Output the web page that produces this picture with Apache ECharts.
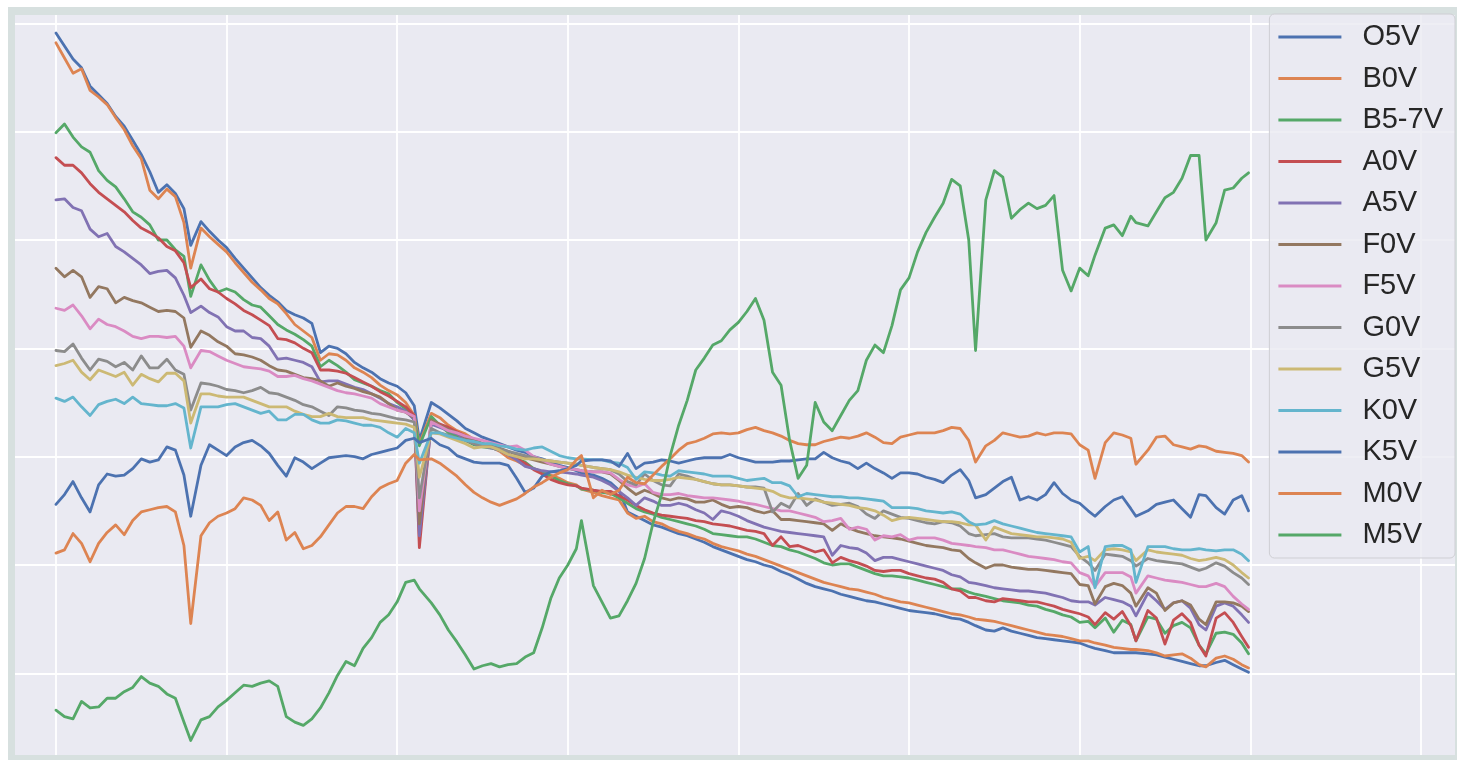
<!DOCTYPE html>
<html>
<head>
<meta charset="utf-8">
<title>Main-sequence stellar spectra</title>
<script src="https://cdn.jsdelivr.net/npm/echarts@6/dist/echarts.min.js"></script>
<style>
  html, body { margin: 0; padding: 0; background: #ffffff; }
  #chart { width: 1457px; height: 760px; }
</style>
</head>
<body>
<div id="chart"></div>
<script>
// Sample positions along the spectral axis (shared by every spectrum)
const xs = [
  0,5,10,15,20,25,30,35,40,45,
  50,55,60,65,70,75,79,85,90,95,
  100,105,110,115,120,125,130,135,140,145,
  150,155,160,165,170,175,180,185,190,195,
  200,205,210,213,220,225,230,235,240,245,
  250,255,260,265,270,275,280,285,290,295,
  300,305,308,315,320,325,330,335,340,345,
  350,355,360,365,370,375,380,385,390,395,
  400,405,410,415,420,425,430,435,440,445,
  450,455,460,465,470,475,480,485,490,495,
  500,505,510,515,520,525,530,535,539,545,
  550,555,560,565,570,575,580,585,590,595,
  600,605,609,615,620,625,630,633,640,645,
  650,655,660,665,670,674,680,685,690,695,
  699
];

// Grid positions
const gridX = [0, 100, 200, 300, 400, 500, 600, 700, 800];
const gridY = [0, 100, 200, 300, 400, 500, 600];

// Spectral flux, one array per spectral type
const O5V = [
  591,579,567,559,542,534,526,514,505,492,
  479,463,444,451,443,429,395,417,408,400,
  393,383,374,365,356,349,343,335,331,328,
  323,296,302,300,295,287,282,278,272,268,
  265,259,247,215,250,245,239,233,226,222,
  218,215,212,209,206,204,200,198,195,192,
  190,187,185,183,180,176,169,149,145,141,
  137,135,132,129,127,124,121,117,114,111,
  108,105,103,100,98,94,91,87,83,80,
  78,76,73,71,69,67,66,64,62,60,
  58,57,56,55,53,51,50,47,44,40,
  39,42,39,37,35,33,32,31,30,29,
  28,25,23,21,19,19,19,19,18,17,
  15,13,11,9,7,7,10,12,8,4,
  1
];
const B0V = [
  582,568,554,558,538,532,525,513,502,487,
  475,446,438,447,440,416,374,411,403,396,
  389,379,370,361,354,346,341,332,322,316,
  310,289,295,294,289,282,278,273,266,261,
  257,250,238,212,240,236,229,224,221,216,
  211,209,205,199,196,192,189,186,183,180,
  176,174,170,167,164,162,160,148,143,145,
  140,138,134,131,129,126,124,120,117,115,
  113,110,108,105,102,99,96,93,90,87,
  84,82,80,78,77,75,73,70,68,66,
  65,63,61,59,57,55,54,52,50,49,
  48,46,44,42,40,38,36,35,34,32,
  30,30,28,26,24,23,22,22,21,19,
  16,17,18,14,8,6,14,16,13,8,
  5
];
const B5_7V = [
  499,507,495,486,481,464,455,449,438,426,
  421,414,400,400,391,385,348,377,363,352,
  355,352,345,340,338,330,322,317,313,308,
  302,283,289,284,278,271,268,265,261,258,
  250,244,234,210,237,229,222,219,215,211,
  209,208,206,202,198,195,189,186,182,178,
  175,173,170,169,167,166,162,157,152,149,
  147,144,142,140,138,136,133,129,128,127,
  126,126,124,121,118,117,114,112,109,106,
  102,100,101,101,98,95,92,90,90,89,
  88,86,84,82,80,78,78,75,73,71,
  69,67,66,65,63,62,59,57,54,52,
  47,48,42,51,38,49,45,30,52,50,
  37,44,47,42,26,18,37,38,36,28,
  18
];
const A0V = [
  476,469,469,462,452,444,438,432,426,418,
  411,407,402,394,390,379,356,364,355,352,
  346,341,335,331,326,321,309,308,305,300,
  296,280,280,279,277,273,269,265,260,256,
  251,246,238,116,233,230,227,223,219,215,
  212,210,206,202,198,194,188,184,179,176,
  174,173,171,169,168,168,164,160,155,151,
  148,146,145,144,143,141,140,138,137,136,
  134,132,131,129,118,126,117,118,115,112,
  114,102,107,104,102,99,95,94,95,95,
  92,90,88,87,84,78,76,70,70,67,
  66,69,68,67,66,66,64,62,59,57,
  55,52,45,56,50,57,44,30,58,51,
  27,49,55,47,26,16,51,56,47,34,
  24
];
const A5V = [
  437,438,430,427,410,403,406,394,389,383,
  377,369,371,372,365,349,333,339,333,329,
  320,316,316,310,309,302,290,291,289,287,
  283,269,270,270,267,264,262,258,254,249,
  246,242,234,127,230,227,224,221,216,212,
  210,208,206,202,197,191,189,187,186,186,
  185,184,183,181,178,174,168,162,155,162,
  159,155,155,157,155,151,148,142,150,148,
  145,141,138,135,133,131,130,129,128,127,
  126,109,118,116,115,111,104,107,107,105,
  103,101,99,97,95,91,89,84,83,81,
  79,78,77,76,76,75,74,72,70,67,
  66,66,63,70,68,66,62,53,74,67,
  59,65,67,60,45,40,62,65,62,54,
  47
];
const F0V = [
  374,366,372,366,347,357,355,342,347,344,
  342,338,334,335,334,328,301,316,312,306,
  302,295,294,292,289,284,280,279,276,273,
  272,270,265,268,265,263,260,258,255,249,
  243,241,236,138,234,229,225,222,218,215,
  212,210,208,205,202,199,197,195,193,191,
  189,188,187,186,186,184,178,171,165,169,
  166,162,160,162,161,158,158,160,156,153,
  154,153,150,148,150,142,142,141,140,139,
  138,132,138,134,131,129,127,126,125,124,
  122,120,118,117,116,114,113,106,102,97,
  100,100,98,97,96,96,95,94,93,92,
  82,81,64,80,83,81,74,62,79,74,
  58,65,67,63,50,45,66,66,65,62,
  57
];
const F5V = [
  337,335,340,330,318,327,322,320,316,311,
  309,311,311,310,311,302,282,298,297,293,
  289,286,283,282,281,279,274,274,275,272,
  270,267,264,261,259,258,256,254,249,246,
  243,241,237,150,232,228,224,222,219,217,
  215,213,211,209,210,206,200,197,193,191,
  189,188,187,186,186,185,179,174,172,175,
  167,165,165,166,164,163,162,162,161,160,
  159,157,156,154,152,150,150,148,146,144,
  140,141,143,133,135,133,123,127,126,128,
  123,125,125,125,123,120,119,118,117,116,
  114,114,112,110,108,107,106,105,103,102,
  93,90,80,93,93,93,89,74,90,88,
  86,85,84,82,80,80,83,80,71,64,
  59
];
const G0V = [
  298,297,304,291,280,290,288,283,287,280,
  293,282,282,290,280,276,243,268,267,265,
  262,261,259,261,264,259,258,255,252,248,
  246,242,238,246,245,243,242,240,239,237,
  235,234,232,162,226,222,220,217,215,212,
  210,209,207,205,203,201,199,197,196,195,
  194,193,192,190,189,188,184,177,174,184,
  178,174,173,184,182,179,177,175,174,174,
  173,172,172,171,149,157,153,166,155,161,
  158,155,156,157,154,147,143,150,147,144,
  143,141,139,138,140,139,136,129,127,128,
  129,126,125,125,125,124,123,121,119,117,
  108,102,95,110,109,108,104,99,106,104,
  103,102,101,98,95,97,102,99,93,88,
  82
];
const G5V = [
  284,286,289,278,271,280,277,274,278,266,
  276,272,269,277,277,270,231,258,258,256,
  255,255,255,252,249,246,246,246,242,239,
  237,237,240,237,236,236,236,234,233,232,
  231,230,227,181,222,221,218,215,212,208,
  209,209,206,202,200,198,198,197,196,195,
  194,193,192,190,189,188,186,183,181,179,
  178,178,179,181,180,179,177,175,174,174,
  173,172,171,170,168,164,162,162,161,160,
  158,157,156,155,153,152,150,146,141,143,
  144,143,142,141,140,140,139,137,137,123,
  135,132,129,128,127,126,126,125,124,121,
  106,108,104,114,115,114,112,104,114,112,
  111,110,109,106,104,105,107,105,100,93,
  88
];
const K0V = [
  254,251,255,246,238,248,251,253,249,255,
  249,248,247,247,249,245,208,246,246,246,
  248,249,246,243,240,242,234,234,239,239,
  234,231,231,234,233,231,229,229,227,222,
  218,226,222,194,222,222,219,217,215,214,
  212,212,210,209,207,206,208,209,205,201,
  199,198,198,197,197,195,194,190,179,186,
  185,183,182,187,186,185,184,182,182,182,
  180,178,179,180,176,176,173,163,166,165,
  164,163,163,162,162,161,160,159,153,153,
  153,152,150,149,148,149,147,140,137,138,
  141,138,136,134,132,130,129,128,127,126,
  112,117,79,117,118,118,114,84,117,117,
  117,115,114,114,115,114,113,114,114,110,
  104
];
const K5V = [
  156,165,177,162,149,174,184,182,183,189,
  198,195,197,209,206,183,145,192,211,206,
  201,209,213,215,210,203,192,182,199,195,
  189,194,199,200,201,200,198,202,204,206,
  208,215,217,213,217,211,208,201,198,195,
  194,194,194,192,180,167,171,182,186,187,
  189,192,196,197,197,196,191,203,189,194,
  195,197,196,194,196,198,199,199,199,202,
  199,197,195,195,195,196,196,197,198,198,
  204,199,196,194,189,194,189,185,180,185,
  185,184,181,179,176,183,188,178,162,165,
  171,177,181,160,163,160,165,176,166,160,
  157,150,145,154,160,163,152,145,150,156,
  158,160,152,144,165,164,153,147,160,164,
  150
];
const M0V = [
  111,114,129,120,103,120,130,137,128,141,
  149,151,153,154,149,118,46,127,139,145,
  148,152,162,160,155,141,149,123,130,115,
  118,126,137,148,154,154,152,163,171,175,
  178,194,202,197,198,194,188,182,174,167,
  162,158,155,158,161,166,172,176,181,185,
  188,197,201,162,169,165,169,181,176,175,
  183,191,198,206,212,214,217,221,222,221,
  222,225,227,224,222,219,215,212,211,211,
  214,216,218,217,219,222,218,213,212,218,
  220,222,222,222,224,227,226,215,195,210,
  215,222,220,218,219,222,220,222,222,221,
  211,206,180,213,222,220,217,193,206,218,
  219,211,209,207,210,209,205,204,203,201,
  195
];
const M5V = [
  -34,-40,-42,-26,-32,-31,-23,-23,-17,-13,
  -3,-9,-12,-19,-23,-45,-62,-43,-40,-31,
  -25,-18,-11,-12,-9,-7,-12,-40,-45,-48,
  -42,-32,-18,-2,11,7,23,33,47,54,
  66,84,86,78,65,54,40,29,17,4,
  7,9,6,8,9,15,19,42,69,88,
  100,115,141,81,66,51,53,67,83,106,
  139,165,201,229,252,280,291,303,307,317,
  324,334,346,326,278,266,215,180,192,250,
  232,224,238,252,261,289,303,296,321,354,
  365,389,407,421,434,456,450,400,298,437,
  464,458,420,428,434,429,432,441,372,353,
  374,367,386,411,414,404,422,416,413,426,
  439,444,457,478,478,400,416,446,448,457,
  462
];

const names = ['O5V', 'B0V', 'B5-7V', 'A0V', 'A5V', 'F0V', 'F5V', 'G0V', 'G5V', 'K0V', 'K5V', 'M0V', 'M5V'];
const values = [O5V, B0V, B5_7V, A0V, A5V, F0V, F5V, G0V, G5V, K0V, K5V, M0V, M5V];
const colors = ['#4C72B0', '#DD8452', '#55A868', '#C44E52', '#8172B3', '#937860',
                '#DA8BC3', '#8C8C8C', '#CCB974', '#64B5CD', '#4C72B0', '#DD8452', '#55A868'];

const chart = echarts.init(document.getElementById('chart'), null, { renderer: 'canvas' });

const spectra = names.map((name, k) => ({
  name: name,
  type: 'line',
  data: xs.map((x, i) => [x, values[k][i]]),
  showSymbol: false,
  symbol: 'none',
  silent: true,
  z: 3,
  color: colors[k],
  lineStyle: { color: colors[k], width: 2.8, join: 'round', cap: 'round' },
  emphasis: { disabled: true },
  animation: false
}));

// white grid lines, kept underneath the spectra and the legend
const gridSeries = {
  name: 'grid',
  type: 'line',
  data: [],
  silent: true,
  z: 1,
  animation: false,
  markLine: {
    z: 1,
    silent: true,
    animation: false,
    symbol: ['none', 'none'],
    label: { show: false },
    emphasis: { disabled: true },
    lineStyle: { color: '#ffffff', width: 1.8, type: 'solid', opacity: 1 },
    data: gridX.map(v => ({ xAxis: v })).concat(gridY.map(v => ({ yAxis: v })))
  }
};

chart.setOption({
  animation: false,
  backgroundColor: '#ffffff',
  graphic: [{
    type: 'rect',
    z: -10,
    silent: true,
    shape: { x: 8, y: 7, width: 1449, height: 753 },
    style: { fill: '#d7e0df' }
  }],
  grid: {
    left: 15, top: 15, right: 2, bottom: 5,
    show: true,
    backgroundColor: '#eaeaf2',
    borderWidth: 0
  },
  xAxis: {
    type: 'value', min: -24, max: 820,
    axisLine: { show: false }, axisTick: { show: false },
    axisLabel: { show: false }, splitLine: { show: false }
  },
  yAxis: {
    type: 'value', min: -75.4, max: 607.7,
    axisLine: { show: false }, axisTick: { show: false },
    axisLabel: { show: false }, splitLine: { show: false }
  },
  legend: {
    data: names,
    z: 20,
    orient: 'vertical',
    right: 2,
    top: 14,
    backgroundColor: 'rgba(234,234,242,0.82)',
    borderColor: '#cfcfd4',
    borderWidth: 1,
    borderRadius: 5,
    padding: [8, 12, 8, 9],
    itemWidth: 63,
    itemHeight: 3,
    itemGap: 11.5,
    icon: 'rect',
    selectedMode: false,
    textStyle: {
      fontFamily: 'Liberation Sans, Arial, sans-serif',
      fontSize: 29,
      lineHeight: 30,
      color: '#262626',
      padding: [0, 0, 0, 16]
    }
  },
  series: [gridSeries].concat(spectra)
});
</script>
</body>
</html>
